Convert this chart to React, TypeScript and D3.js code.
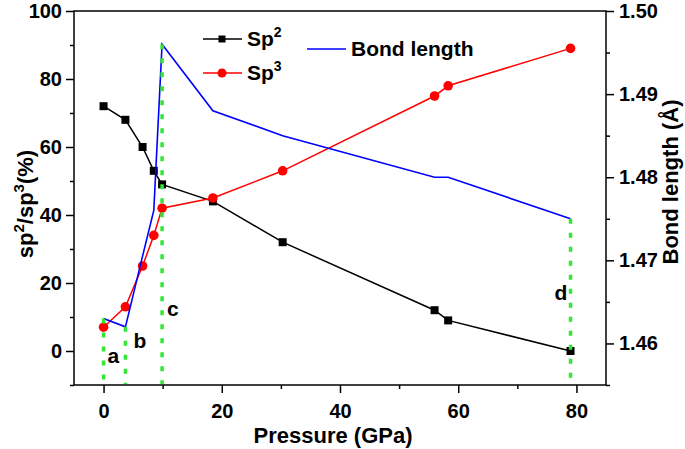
import React, { useEffect, useRef } from 'react'
import * as d3 from 'd3'

// values
const pressure = [0, 3.7, 6.6, 8.5, 9.9, 18.5, 30.3, 56, 58.3, 79]
const sp2 = [72, 68, 60, 53, 49, 44, 32, 12, 9, 0]
const sp3 = [7, 13, 25, 34, 42, 45, 53, 75, 78, 89]
const bondLength = [1.463, 1.462, 1.4705, 1.476, 1.496, 1.488, 1.485, 1.48, 1.48, 1.475]

// stages marked by the green dotted lines
const stageLabels = ['a', 'b', 'c', 'd']
const stageIndex = [0, 1, 4, 9]

const xTicks = [0, 20, 40, 60, 80]
const xMinor = [10, 30, 50, 70]
const leftTicks = [0, 20, 40, 60, 80, 100]
const leftMinor = [-10, 10, 30, 50, 70, 90]
const rightTicks = [1.46, 1.47, 1.48, 1.49, 1.5]
const rightMinor = [1.455, 1.465, 1.475, 1.485, 1.495]

const W = 685
const H = 449
const margin = { top: 11, right: 79, bottom: 64, left: 74 }
const font = "'Liberation Sans', Arial, Helvetica, sans-serif"
const green = '#33e633'

const PressureChart = () => {
  const svgRef = useRef(null)

  useEffect(() => {
    const svg = d3.select(svgRef.current)
    svg.selectAll('*').remove()

    const x = d3.scaleLinear().domain([-5, 85]).range([margin.left, W - margin.right])
    const yLeft = d3.scaleLinear().domain([-10, 100]).range([H - margin.bottom, margin.top])
    const yRight = d3.scaleLinear().domain([1.455, 1.5]).range([H - margin.bottom, margin.top])
    const [xl, xr] = x.range()
    const [yb, yt] = yLeft.range()

    const styleAxis = (g) => {
      g.select('.domain').remove()
      g.selectAll('line').attr('stroke', '#000').attr('stroke-width', 1.5)
      g.selectAll('text')
        .attr('fill', '#000')
        .attr('font-family', font)
        .attr('font-weight', 'bold')
        .attr('font-size', 20)
    }

    // bottom
    svg.append('g').attr('transform', `translate(0,${yb})`)
      .call(d3.axisBottom(x).tickValues(xMinor).tickSize(4).tickFormat(() => ''))
      .call(styleAxis)
    svg.append('g').attr('transform', `translate(0,${yb})`)
      .call(d3.axisBottom(x).tickValues(xTicks).tickSize(8).tickPadding(11).tickFormat(d3.format('d')))
      .call(styleAxis)

    // left
    svg.append('g').attr('transform', `translate(${xl},0)`)
      .call(d3.axisLeft(yLeft).tickValues(leftMinor).tickSize(4).tickFormat(() => ''))
      .call(styleAxis)
    svg.append('g').attr('transform', `translate(${xl},0)`)
      .call(d3.axisLeft(yLeft).tickValues(leftTicks).tickSize(8).tickPadding(4).tickFormat(d3.format('d')))
      .call(styleAxis)

    // right
    svg.append('g').attr('transform', `translate(${xr},0)`)
      .call(d3.axisRight(yRight).tickValues(rightMinor).tickSize(4).tickFormat(() => ''))
      .call(styleAxis)
    svg.append('g').attr('transform', `translate(${xr},0)`)
      .call(d3.axisRight(yRight).tickValues(rightTicks).tickSize(8).tickPadding(5).tickFormat(d3.format('.2f')))
      .call(styleAxis)

    // frame
    svg.append('rect')
      .attr('x', xl).attr('y', yt)
      .attr('width', xr - xl).attr('height', yb - yt)
      .attr('fill', 'none').attr('stroke', '#000').attr('stroke-width', 1.5)

    const idx = d3.range(pressure.length)

    const sp2Line = d3.line().x((i) => x(pressure[i])).y((i) => yLeft(sp2[i]))
    const sp3Line = d3.line().x((i) => x(pressure[i])).y((i) => yLeft(sp3[i]))
    const bondLine = d3.line().x((i) => x(pressure[i])).y((i) => yRight(bondLength[i]))

    svg.append('path').attr('d', sp2Line(idx))
      .attr('fill', 'none').attr('stroke', '#000').attr('stroke-width', 1.5)
    svg.append('g').selectAll('rect').data(idx).join('rect')
      .attr('x', (i) => x(pressure[i]) - 4).attr('y', (i) => yLeft(sp2[i]) - 4)
      .attr('width', 8).attr('height', 8).attr('fill', '#000')

    svg.append('path').attr('d', sp3Line(idx))
      .attr('fill', 'none').attr('stroke', '#ff0000').attr('stroke-width', 1.5)
    svg.append('g').selectAll('circle').data(idx).join('circle')
      .attr('cx', (i) => x(pressure[i])).attr('cy', (i) => yLeft(sp3[i]))
      .attr('r', 4.8).attr('fill', '#ff0000')

    svg.append('path').attr('d', bondLine(idx))
      .attr('fill', 'none').attr('stroke', '#0000ff').attr('stroke-width', 1.6)

    // green dotted drop lines
    svg.append('g').selectAll('line').data(stageIndex).join('line')
      .attr('x1', (i) => x(pressure[i])).attr('x2', (i) => x(pressure[i]))
      .attr('y1', (i) => yRight(bondLength[i])).attr('y2', yb - 1)
      .attr('stroke', green).attr('stroke-width', 3.5)
      .attr('stroke-dasharray', '5 9')

    const labelOffset = [[4, -3.5], [8, 1], [5, 10.3], [-16, 15]]
    svg.append('g').selectAll('text').data(stageLabels).join('text')
      .attr('x', (d, k) => x(pressure[stageIndex[k]]) + labelOffset[k][0])
      .attr('y', (d, k) => yLeft(labelOffset[k][1]))
      .attr('font-family', font).attr('font-weight', 'bold').attr('font-size', 21)
      .text((d) => d)

    // axis titles
    svg.append('text')
      .attr('x', 333).attr('y', 443).attr('text-anchor', 'middle')
      .attr('font-family', font).attr('font-weight', 'bold').attr('font-size', 22)
      .text('Pressure (GPa)')

    const leftTitle = svg.append('text')
      .attr('transform', 'translate(33,204) rotate(-90)').attr('text-anchor', 'middle')
      .attr('font-family', font).attr('font-weight', 'bold').attr('font-size', 22)
    leftTitle.append('tspan').text('sp')
    leftTitle.append('tspan').attr('dy', -9).attr('font-size', 15).text('2')
    leftTitle.append('tspan').attr('dy', 9).text('/sp')
    leftTitle.append('tspan').attr('dy', -9).attr('font-size', 15).text('3')
    leftTitle.append('tspan').attr('dy', 9).text('(%)')

    svg.append('text')
      .attr('transform', 'translate(678,182) rotate(-90)').attr('text-anchor', 'middle')
      .attr('font-family', font).attr('font-weight', 'bold').attr('font-size', 22)
      .text('Bond length (Å)')

    // legend
    const legend = svg.append('g').attr('font-family', font).attr('font-weight', 'bold').attr('font-size', 21)
    legend.append('line').attr('x1', 203).attr('x2', 242).attr('y1', 39).attr('y2', 39)
      .attr('stroke', '#000').attr('stroke-width', 1.5)
    legend.append('rect').attr('x', 218.5).attr('y', 35.5).attr('width', 7).attr('height', 7).attr('fill', '#000')
    const t2 = legend.append('text').attr('x', 247).attr('y', 46)
    t2.append('tspan').text('Sp')
    t2.append('tspan').attr('dy', -9).attr('font-size', 14).text('2')

    legend.append('line').attr('x1', 203).attr('x2', 242).attr('y1', 73).attr('y2', 73)
      .attr('stroke', '#ff0000').attr('stroke-width', 1.5)
    legend.append('circle').attr('cx', 222).attr('cy', 73).attr('r', 4.5).attr('fill', '#ff0000')
    const t3 = legend.append('text').attr('x', 247).attr('y', 80)
    t3.append('tspan').text('Sp')
    t3.append('tspan').attr('dy', -9).attr('font-size', 14).text('3')

    legend.append('line').attr('x1', 307).attr('x2', 346).attr('y1', 49).attr('y2', 49)
      .attr('stroke', '#0000ff').attr('stroke-width', 1.6)
    legend.append('text').attr('x', 351).attr('y', 56).text('Bond length')
  }, [])

  return (
    <svg
      ref={svgRef}
      width={W}
      height={H}
      style={{ position: 'absolute', left: 0, top: 0, background: '#fff' }}
    />
  )
}

export default function App() {
  return <PressureChart />
}
